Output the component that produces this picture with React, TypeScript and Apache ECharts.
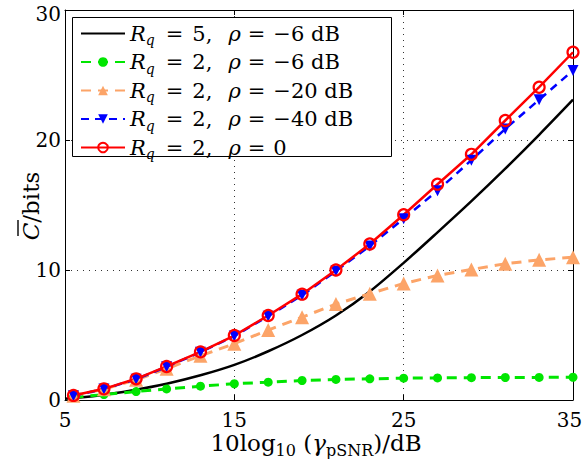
import React, { useEffect, useRef } from "react";
import * as echarts from "echarts";

// x positions (dB) of the plotted points
const xValues = [5.5, 7.3, 9.2, 11, 13, 15, 17, 19, 21, 23, 25, 27, 29, 31, 33, 35];
const blackX = [5, 7, 9, 11, 13, 15, 17, 19, 21, 23, 25, 27, 29, 31, 33, 35];

// capacity values (bits)
const rq5Rho6 = [0.1, 0.35, 0.75, 1.25, 1.9, 2.7, 3.75, 5.0, 6.5, 8.35, 10.55, 12.9, 15.3, 17.8, 20.4, 23.1];
const rq2Rho6 = [0.2, 0.42, 0.65, 0.85, 1.06, 1.25, 1.37, 1.5, 1.58, 1.63, 1.68, 1.7, 1.72, 1.73, 1.74, 1.75];
const rq2Rho20 = [0.33, 0.83, 1.55, 2.4, 3.4, 4.33, 5.38, 6.37, 7.38, 8.18, 8.96, 9.58, 10.04, 10.48, 10.78, 10.98];
const rq2Rho40 = [0.33, 0.85, 1.6, 2.55, 3.68, 4.92, 6.45, 8.05, 9.92, 11.85, 13.95, 16.1, 18.45, 20.85, 23.1, 25.35];
const rq2Rho0 = [0.35, 0.86, 1.63, 2.58, 3.7, 4.96, 6.5, 8.14, 10.0, 12.0, 14.25, 16.6, 18.9, 21.5, 24.06, 26.75];

const seriesNames = ["Rq=5, rho=-6 dB", "Rq=2, rho=-6 dB", "Rq=2, rho=-20 dB", "Rq=2, rho=-40 dB", "Rq=2, rho=0"];
const legendRq = ["5", "2", "2", "2", "2"];
const legendRhoNum = ["−6", "−6", "−20", "−40", "0"];
const legendRhoUnit = [" dB", " dB", " dB", " dB", ""];

const xTickMin = 5;
const xTickMax = 35;
const yTickMin = 0;
const yTickMax = 30;
const tickStep = 10;

const SERIF = "DejaVu Serif";

const pairs = (xs: number[], ys: number[]) => ys.map((y, i) => [xs[i], y]);

export default function App() {
  const ref = useRef<HTMLDivElement>(null);
  useEffect(() => {
    if (!ref.current) return;
    const chart = echarts.init(ref.current, null, { renderer: "svg" });
    const axisCommon = {
      type: "value" as const,
      axisLine: { show: true, onZero: false, lineStyle: { color: "#000", width: 1 } },
      axisTick: { show: true, inside: true, length: 5, lineStyle: { color: "#000" } },
    };
    const fs = 21;
    const legendRich = {
      n: { fontFamily: SERIF, fontSize: fs, lineHeight: 27, color: "#000" },
      i: { fontFamily: SERIF, fontSize: fs, lineHeight: 27, fontStyle: "italic", color: "#000" },
      r: { fontFamily: SERIF, fontSize: fs, lineHeight: 27, fontStyle: "italic", color: "#000", padding: [0, 0, 0, 16] },
      eq: { fontFamily: SERIF, fontSize: fs, lineHeight: 27, color: "#000", padding: [0, 8, 0, 7] },
      eq1: { fontFamily: SERIF, fontSize: fs, lineHeight: 27, color: "#000", padding: [0, 9, 0, 11] },
      s: { fontFamily: SERIF, fontSize: 14, lineHeight: 14, fontStyle: "italic", color: "#000", padding: [13, 0, 0, 0] },
    };
    chart.setOption({
      animation: false,
      backgroundColor: "#fff",
      grid: { left: 65, right: 10, top: 10, bottom: 59, show: false, containLabel: false, outerBoundsMode: "none" },
      xAxis: [
        {
          ...axisCommon,
          min: xTickMin,
          max: xTickMax,
          interval: tickStep,
          position: "bottom",
          axisLabel: {
            fontFamily: SERIF,
            fontSize: 20,
            color: "#000",
            margin: 10,
            formatter: (v: number) => (v === xTickMax ? `{end|${v}}` : `${v}`),
            rich: { end: { fontFamily: SERIF, fontSize: 20, color: "#000", padding: [0, 7, 0, 0] } },
          },
          splitLine: { show: true, lineStyle: { color: "#333", type: [1, 5], width: 1 } },
        },
        {
          ...axisCommon,
          min: xTickMin,
          max: xTickMax,
          interval: tickStep,
          position: "top",
          axisLabel: { show: false },
          splitLine: { show: false },
        },
      ],
      yAxis: [
        {
          ...axisCommon,
          min: yTickMin,
          max: yTickMax,
          interval: tickStep,
          position: "left",
          axisLabel: {
            fontFamily: SERIF,
            fontSize: 20,
            lineHeight: 18,
            color: "#000",
            margin: 4,
            formatter: (v: number) => (v === yTickMax ? `{top|${v}}` : `${v}`),
            rich: { top: { fontFamily: SERIF, fontSize: 20, lineHeight: 18, color: "#000", padding: [7, 0, 0, 0] } },
          },
          splitLine: { show: true, lineStyle: { color: "#333", type: [1, 5], width: 1 } },
        },
        {
          ...axisCommon,
          min: yTickMin,
          max: yTickMax,
          interval: tickStep,
          position: "right",
          axisLabel: { show: false },
          splitLine: { show: false },
        },
      ],
      legend: {
        orient: "vertical",
        left: 72,
        top: 17,
        itemWidth: 44,
        itemHeight: 12,
        itemGap: 1.5,
        padding: [3, 8, 3, 8],
        borderWidth: 0,
        backgroundColor: "transparent",
        z: 6,
        data: seriesNames.map((name, k) => (k === 0 ? { name, itemStyle: { opacity: 0 } } : { name })),
        formatter: (name: string) => {
          const k = seriesNames.indexOf(name);
          return `{i|R}{s|q}{eq1|=}{n|${legendRq[k]},}{r|ρ}{eq|=}{n|${legendRhoNum[k]}${legendRhoUnit[k]}}`;
        },
        textStyle: { rich: legendRich },
      },
      graphic: [
        {
          type: "rect",
          z: 5,
          shape: { x: 72.5, y: 17.5, width: 319, height: 139 },
          style: { fill: "#fff", stroke: "#000", lineWidth: 1 },
        },
        {
          type: "text",
          x: 316,
          y: 443,
          style: {
            text: "{n|10log}{sub|10}{n| (}{ig|γ}{sub|pSNR}{n|)/dB}",
            align: "center",
            verticalAlign: "middle",
            rich: {
              n: { fontFamily: SERIF, fontSize: 23, lineHeight: 30, fill: "#000" },
              ig: { fontFamily: SERIF, fontSize: 23, lineHeight: 30, fontStyle: "italic", fill: "#000" },
              sub: { fontFamily: SERIF, fontSize: 16, lineHeight: 16, fill: "#000", padding: [14, 0, 0, 0] },
            },
          },
        },
        {
          type: "group",
          x: 31,
          y: 206,
          rotation: Math.PI / 2,
          children: [
            {
              type: "text",
              x: 0,
              y: 0,
              style: {
                text: "{c|C}{n|/bits}",
                align: "center",
                verticalAlign: "middle",
                rich: {
                  c: { fontFamily: SERIF, fontSize: 23, fontStyle: "italic", fill: "#000" },
                  n: { fontFamily: SERIF, fontSize: 23, fill: "#000" },
                },
              },
            },
            {
              type: "line",
              shape: { x1: -30, y1: -13, x2: -14, y2: -13 },
              style: { stroke: "#000", lineWidth: 1.4 },
            },
          ],
        },
      ],
      series: [
        {
          name: seriesNames[0],
          type: "line",
          data: pairs(blackX, rq5Rho6),
          smooth: 0.3,
          symbol: "none",
          lineStyle: { color: "#000", width: 2.5 },
          itemStyle: { color: "#000" },
        },
        {
          name: seriesNames[1],
          type: "line",
          data: pairs(xValues, rq2Rho6),
          symbol: "circle",
          symbolSize: 9,
          lineStyle: { color: "#00e600", width: 3, type: [10, 7] },
          itemStyle: { color: "#00e600" },
        },
        {
          name: seriesNames[2],
          type: "line",
          data: pairs(xValues, rq2Rho20),
          symbol: "triangle",
          symbolSize: 14,
          lineStyle: { color: "#fca468", width: 3, type: [10, 7] },
          itemStyle: { color: "#fca468" },
        },
        {
          name: seriesNames[3],
          type: "line",
          data: pairs(xValues, rq2Rho40),
          symbol: "triangle",
          symbolRotate: 180,
          symbolSize: 11,
          lineStyle: { color: "#0000ff", width: 2.5, type: [8, 6] },
          itemStyle: { color: "#0000ff" },
        },
        {
          name: seriesNames[4],
          type: "line",
          data: pairs(xValues, rq2Rho0),
          symbol: "circle",
          symbolSize: 11,
          lineStyle: { color: "#ff0000", width: 2.5 },
          itemStyle: { color: "rgba(0,0,0,0)", borderColor: "#ff0000", borderWidth: 2.2 },
        },
      ],
    });
    return () => chart.dispose();
  }, []);
  return <div ref={ref} style={{ position: "fixed", left: 0, top: 0, width: 583, height: 459 }} />;
}
